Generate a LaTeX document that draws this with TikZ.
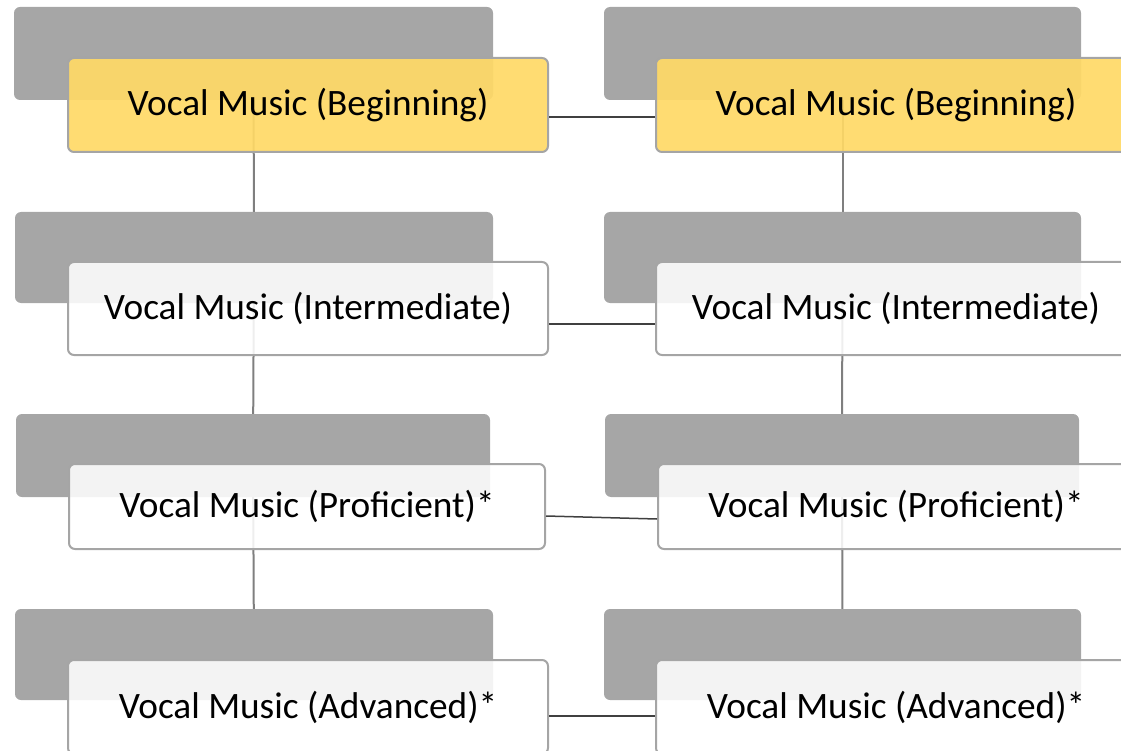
\documentclass[tikz,border=0pt]{standalone}
\usepackage{fontspec}
\setmainfont{Carlito}
\definecolor{backgray}{HTML}{A6A6A6}
\definecolor{bordergray}{HTML}{A5A5A5}
\definecolor{gold}{HTML}{FFD966}
\definecolor{vline}{HTML}{7F7F7F}
\definecolor{hline}{HTML}{404040}
\pgfdeclarelayer{lines}
\pgfsetlayers{lines,main}
\begin{document}
\begin{tikzpicture}[x=1pt,y=-1pt,
  back/.style={fill=backgray, draw=none, rounded corners=6pt, inner sep=0pt},
  front/.style={draw=bordergray, line width=2pt, rounded corners=6pt, inner sep=0pt,
    fill opacity=0.87, text opacity=1, font=\fontsize{37.3}{40}\selectfont, text=black},
  whitebox/.style={front, fill=white},
  goldbox/.style={front, fill=gold, fill opacity=0.92},
  vconn/.style={draw=vline, line width=2pt},
  hconn/.style={draw=hline, line width=1.5pt}]
\useasboundingbox (0,0) rectangle (1121,751);
% back boxes
\node[back, minimum width=479pt, minimum height=93pt] (gL1) at (253.5,53.5) {};
\node[back, minimum width=477pt, minimum height=93pt] (gR1) at (842.5,53.5) {};
\node[back, minimum width=478pt, minimum height=91pt] (gL2) at (254,257.5) {};
\node[back, minimum width=477pt, minimum height=91pt] (gR2) at (842.5,257.5) {};
\node[back, minimum width=474pt, minimum height=83pt] (gL3) at (253,455.5) {};
\node[back, minimum width=474pt, minimum height=83pt] (gR3) at (842,455.5) {};
\node[back, minimum width=478pt, minimum height=91pt] (gL4) at (254,654.5) {};
\node[back, minimum width=477pt, minimum height=91pt] (gR4) at (842.5,654.5) {};
% vertical connectors, behind the boxes
\begin{pgfonlayer}{lines}
\draw[vconn] (gL1.center) -- (gL2.center);
\draw[vconn] (gL2.center) -- (gL3.center);
\draw[vconn] (gL3.center) -- (gL4.center);
\draw[vconn] (gR1.center) -- (gR2.center);
\draw[vconn] (gR2.center) -- (gR3.center);
\draw[vconn] (gR3.center) -- (gR4.center);
\end{pgfonlayer}
% front boxes
\node[goldbox, minimum width=480pt, minimum height=94pt] (fL1) at (308,105) {Vocal Music (Beginning)};
\node[goldbox, minimum width=480pt, minimum height=94pt] (fR1) at (896,105) {Vocal Music (Beginning)};
\node[whitebox, minimum width=480pt, minimum height=93pt] (fL2) at (308,308.5) {Vocal Music (Intermediate)};
\node[whitebox, minimum width=480pt, minimum height=93pt] (fR2) at (896,308.5) {Vocal Music (Intermediate)};
\node[whitebox, minimum width=476pt, minimum height=85pt] (fL3) at (307,506.5) {Vocal Music (Proficient)*};
\node[whitebox, minimum width=476pt, minimum height=85pt] (fR3) at (896,506.5) {Vocal Music (Proficient)*};
\node[whitebox, minimum width=480pt, minimum height=94pt] (fL4) at (308,707) {Vocal Music (Advanced)*};
\node[whitebox, minimum width=480pt, minimum height=94pt] (fR4) at (896,707) {Vocal Music (Advanced)*};
% horizontal connectors
\draw[hconn] ([yshift=-12pt]fL1.east) -- ([yshift=-12pt]fR1.west);
\draw[hconn] ([yshift=-15.5pt]fL2.east) -- ([yshift=-15.5pt]fR2.west);
\draw[hconn] ([yshift=-9.5pt]fL3.east) -- ([yshift=-12.5pt]fR3.west);
\draw[hconn] ([yshift=-9pt]fL4.east) -- ([yshift=-9pt]fR4.west);
\end{tikzpicture}
\end{document}
